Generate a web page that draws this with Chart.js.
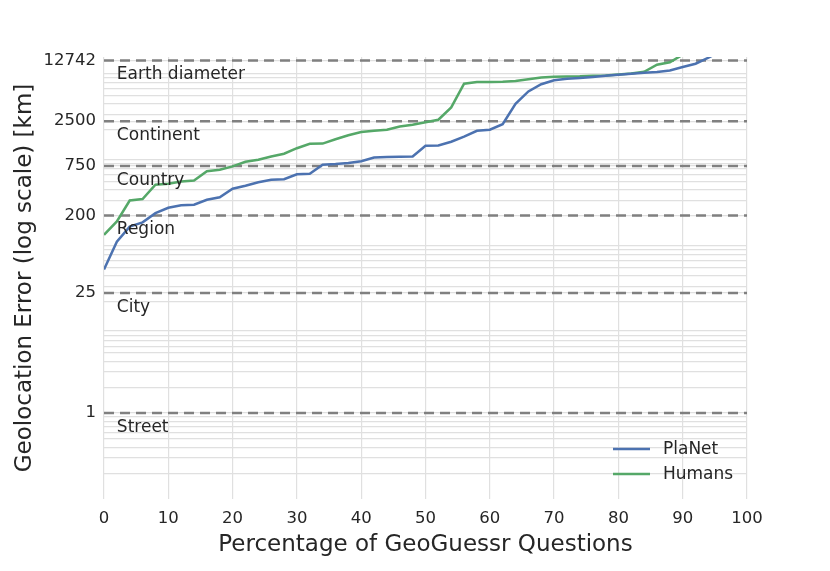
<!DOCTYPE html>
<html>
<head>
<meta charset="utf-8">
<script src="https://cdn.jsdelivr.net/npm/chart.js@4.4.1/dist/chart.umd.min.js"></script>
<style>
html,body{margin:0;padding:0;background:#fff;}
#wrap{width:830px;height:571px;}
</style>
</head>
<body>
<div id="wrap"><canvas id="c" width="830" height="571"></canvas></div>
<script>
// ---- data ----
const percent = [0,2,4,6,8,10,12,14,16,18,20,22,24,26,28,30,32,34,36,38,40,42,44,46,48,50,52,54,56,58,60,62,64,66,68,70,72,74,76,78,80,82,84,86,88,90,92,94,96];
const planetError = [47,99,148,166,212,245,262,266,304,325,408,443,486,520,527,603,611,778,792,813,854,945,955,960,971,1294,1304,1440,1647,1933,1986,2302,3988,5546,6725,7486,7795,7963,8180,8450,8675,8910,9152,9330,9730,10665,11650,13680,16500];
const humanError = [119,170,298,310,455,467,497,510,653,680,743,843,889,971,1044,1210,1364,1370,1539,1714,1868,1933,1986,2170,2271,2429,2597,3611,6817,7133,7150,7190,7330,7690,8070,8220,8285,8330,8450,8500,8750,8960,9400,11350,12130,14830];
const refValues = [1,25,200,750,2500,12742];
const refLabels = ['Street','City','Region','Country','Continent','Earth diameter'];
const seriesNames = ['PlaNet','Humans'];
const seriesColors = ['#4C72B0','#55A868'];
const xTickStep = 10;

// minor log grid values (2..9 x 10^k), without duplicates of the labelled values
const minorValues = [];
for (let e = -1; e <= 3; e++) {
  for (let m = 2; m <= 9; m++) {
    const v = +(m * Math.pow(10, e)).toPrecision(6);
    if (!refValues.includes(v)) minorValues.push(v);
  }
}
const yGridValues = minorValues.concat(refValues).sort((a,b)=>a-b);

const textColor = '#262626';
const gridColor = '#e0e0e0';
const FONT = "'DejaVu Sans', sans-serif";
Chart.defaults.font.family = FONT;

const refLabelPlugin = {
  id: 'refLabels',
  afterDatasetsDraw(chart) {
    const {ctx, scales:{x, y}} = chart;
    ctx.save();
    ctx.font = "17px " + FONT;
    ctx.fillStyle = textColor;
    ctx.textAlign = 'left';
    ctx.textBaseline = 'alphabetic';
    refValues.forEach((v, i) => {
      ctx.fillText(refLabels[i], x.getPixelForValue(2), y.getPixelForValue(v) + 19);
    });
    ctx.restore();
  }
};

const insideLegend = {
  id: 'insideLegend',
  afterDraw(chart) {
    const {ctx, chartArea} = chart;
    ctx.save();
    ctx.font = "17px " + FONT;
    ctx.textBaseline = 'middle';
    ctx.textAlign = 'left';
    seriesNames.forEach((name, i) => {
      const y = chartArea.bottom - 50 + i * 25;
      const x0 = chartArea.right - 134;
      ctx.strokeStyle = seriesColors[i];
      ctx.lineWidth = 2.5;
      ctx.beginPath();
      ctx.moveTo(x0, y);
      ctx.lineTo(x0 + 37, y);
      ctx.stroke();
      ctx.fillStyle = textColor;
      ctx.fillText(name, x0 + 50, y + 1);
    });
    ctx.restore();
  }
};

const datasets = [
  {
    label: seriesNames[0],
    data: percent.map((p, i) => ({x: p, y: planetError[i]})),
    borderColor: seriesColors[0], backgroundColor: seriesColors[0],
    borderWidth: 2.5, pointRadius: 0, tension: 0, order: 0
  },
  {
    label: seriesNames[1],
    data: humanError.map((v, i) => ({x: percent[i], y: v})),
    borderColor: seriesColors[1], backgroundColor: seriesColors[1],
    borderWidth: 2.5, pointRadius: 0, tension: 0, order: 0
  }
].concat(refValues.map(v => ({
  label: 'ref ' + v,
  data: [{x: 0, y: v}, {x: 100, y: v}],
  borderColor: '#808080', borderWidth: 2.5, borderDash: [10, 6],
  pointRadius: 0, order: 1
})));

new Chart(document.getElementById('c'), {
  type: 'line',
  data: { datasets },
  options: {
    responsive: false,
    animation: false,
    devicePixelRatio: 1,
    layout: { padding: { top: 57, right: 83, bottom: 0, left: 0 } },
    plugins: { legend: { display: false }, tooltip: { enabled: false } },
    scales: {
      x: {
        type: 'linear', min: 0, max: 100,
        afterFit: s => { s.height = 72; },
        ticks: { stepSize: xTickStep, padding: 10, maxRotation: 0, color: textColor, font: { size: 16.5 } },
        grid: { color: gridColor, lineWidth: 1.2, drawTicks: false },
        border: { display: false },
        title: { display: true, text: 'Percentage of GeoGuessr Questions', color: textColor,
                 font: { size: 23 }, padding: { top: 0, bottom: 12 } }
      },
      y: {
        type: 'logarithmic', min: 0.1, max: 13950,
        afterFit: s => { s.width = 104; },
        afterBuildTicks: s => { s.ticks = yGridValues.map(v => ({ value: v })); },
        ticks: { autoSkip: false, padding: 8, color: textColor, font: { size: 16.5 },
                 callback: v => refValues.includes(v) ? String(v) : '' },
        grid: { color: gridColor, lineWidth: 1.2, drawTicks: false },
        border: { display: false },
        title: { display: true, text: 'Geolocation Error (log scale) [km]', color: textColor,
                 font: { size: 23 }, padding: { top: 11, bottom: 0 } }
      }
    }
  },
  plugins: [refLabelPlugin, insideLegend]
});
</script>
</body>
</html>
